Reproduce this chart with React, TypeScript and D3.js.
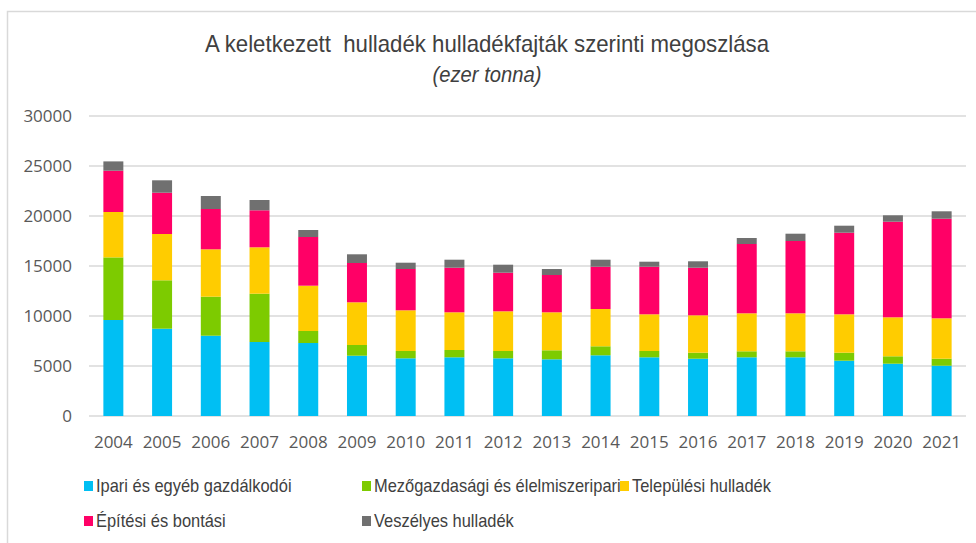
import React, { useEffect, useRef } from "react";
import * as d3 from "d3";

// Waste generated by waste type, stacked per year (thousand tonnes)
const years = [
  "2004", "2005", "2006", "2007", "2008", "2009", "2010", "2011", "2012",
  "2013", "2014", "2015", "2016", "2017", "2018", "2019", "2020", "2021",
];
const ipari = [9600, 8730, 8030, 7400, 7300, 6030, 5770, 5870, 5770, 5670, 6070, 5870, 5730, 5870, 5870, 5530, 5230, 5030];
const mezogazdasagi = [6260, 4840, 3900, 4830, 1200, 1070, 730, 730, 730, 900, 900, 630, 600, 600, 600, 800, 740, 700];
const telepulesi = [4540, 4630, 4740, 4640, 4530, 4270, 4070, 3770, 3970, 3800, 3730, 3670, 3740, 3800, 3800, 3840, 3900, 4040];
const epitesi = [4130, 4130, 4030, 3700, 4870, 3930, 4130, 4460, 3860, 3730, 4230, 4760, 4760, 6930, 7230, 8160, 9560, 9960];
const veszelyes = [930, 1240, 1300, 1030, 700, 870, 630, 800, 800, 600, 700, 500, 640, 600, 730, 700, 640, 740];

const yTicks = [0, 5000, 10000, 15000, 20000, 25000, 30000];

const seriesNames = [
  "Ipari és egyéb gazdálkodói",
  "Mezőgazdasági és élelmiszeripari",
  "Települési hulladék",
  "Építési és bontási",
  "Veszélyes hulladék",
];
const seriesKeys = ["ipari", "mezo", "telep", "epit", "vesz"];
const colors = ["#00BFF3", "#7DCB00", "#FFCC00", "#FF0066", "#707070"];

const narrow = "'Liberation Sans Narrow', 'Arial Narrow', 'Liberation Sans', sans-serif";

export default function App() {
  const ref = useRef<SVGSVGElement | null>(null);

  useEffect(() => {
    document.body.style.margin = "0";
    const svg = d3.select(ref.current);
    svg.selectAll("*").remove();

    const rows = years.map((year, i) => ({
      year,
      ipari: ipari[i],
      mezo: mezogazdasagi[i],
      telep: telepulesi[i],
      epit: epitesi[i],
      vesz: veszelyes[i],
    }));

    const x = d3
      .scaleBand()
      .domain(years)
      .range([89, 966])
      .paddingInner(0.59)
      .paddingOuter(0.295);
    const y = d3.scaleLinear().domain([0, 30000]).range([416, 116]);

    // outer frame
    svg
      .append("path")
      .attr("d", "M7.5,543 V11.5 H976")
      .attr("fill", "none")
      .attr("stroke", "#d9d9d9")
      .attr("stroke-width", 1.5);

    // title (condensed look via horizontal scale)
    svg
      .append("text")
      .attr("transform", "translate(487,52) scale(0.926,1)")
      .attr("text-anchor", "middle")
      .attr("font-family", narrow)
      .attr("font-size", 24)
      .attr("fill", "#404040")
      .attr("xml:space", "preserve")
      .text("A keletkezett  hulladék hulladékfajták szerinti megoszlása");
    svg
      .append("text")
      .attr("transform", "translate(487,82) scale(0.92,1)")
      .attr("text-anchor", "middle")
      .attr("font-family", narrow)
      .attr("font-style", "italic")
      .attr("font-size", 22)
      .attr("fill", "#404040")
      .text("(ezer tonna)");

    // grid
    svg
      .append("g")
      .selectAll("line")
      .data(yTicks)
      .join("line")
      .attr("x1", 89)
      .attr("x2", 966)
      .attr("y1", (d) => y(d))
      .attr("y2", (d) => y(d))
      .attr("stroke", "#d9d9d9")
      .attr("stroke-width", 1.5);

    // y labels
    svg
      .append("g")
      .selectAll("text")
      .data(yTicks)
      .join("text")
      .attr("x", 72)
      .attr("y", (d) => y(d) + 6)
      .attr("text-anchor", "end")
      .attr("font-family", "'Open Sans', sans-serif")
      .attr("font-size", 17)
      .attr("fill", "#595959")
      .text((d) => String(d));

    // bars
    const stack = d3.stack<any>().keys(seriesKeys)(rows);
    svg
      .append("g")
      .selectAll("g")
      .data(stack)
      .join("g")
      .attr("fill", (_, i) => colors[i])
      .selectAll("rect")
      .data((s) => s)
      .join("rect")
      .attr("x", (d: any) => x(d.data.year)!)
      .attr("width", x.bandwidth())
      .attr("y", (d) => y(d[1]))
      .attr("height", (d) => y(d[0]) - y(d[1]));

    // x labels
    svg
      .append("g")
      .selectAll("text")
      .data(years)
      .join("text")
      .attr("x", (d) => x(d)! + x.bandwidth() / 2)
      .attr("y", 448)
      .attr("text-anchor", "middle")
      .attr("font-family", "'Open Sans', sans-serif")
      .attr("font-size", 17)
      .attr("fill", "#595959")
      .text((d) => d);

    // legend
    const legendPos = [
      [84, 486],
      [362, 486],
      [620, 486],
      [84, 521],
      [362, 521],
    ];
    const legend = svg
      .append("g")
      .selectAll("g")
      .data(seriesNames)
      .join("g")
      .attr("transform", (_, i) => `translate(${legendPos[i][0]},${legendPos[i][1]})`);
    legend
      .append("rect")
      .attr("x", 0)
      .attr("y", -5)
      .attr("width", 9)
      .attr("height", 10)
      .attr("fill", (_, i) => colors[i]);
    legend
      .append("text")
      .attr("transform", "translate(12,6) scale(0.94,1)")
      .attr("font-family", narrow)
      .attr("font-size", 17.5)
      .attr("fill", "#404040")
      .text((d) => d);
  }, []);

  return <svg ref={ref} width={976} height={543} style={{ display: "block", background: "#fff" }} />;
}
